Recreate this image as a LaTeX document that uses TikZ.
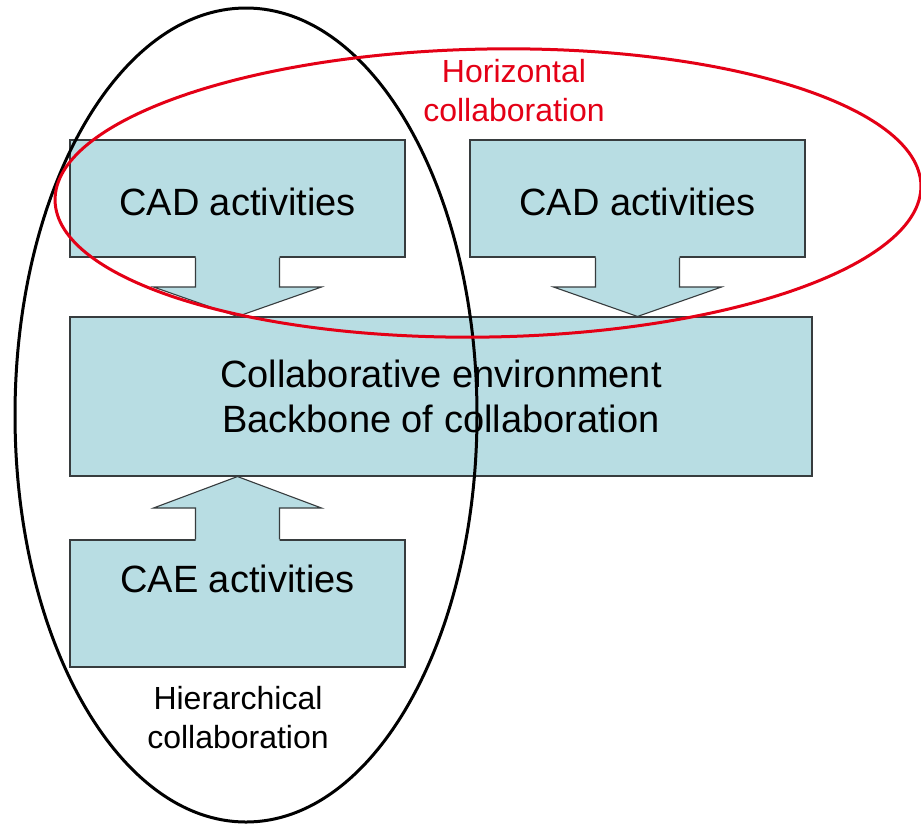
\documentclass[tikz,border=0pt]{standalone}
\usepackage{fontspec}
\setmainfont{Liberation Sans}
\usepackage{xcolor}
\usepackage{tikz}
\usetikzlibrary{calc}
\definecolor{boxblue}{RGB}{184, 221, 227}
\definecolor{boxedge}{RGB}{55, 60, 62}
\definecolor{collabred}{RGB}{228, 0, 22}

% block arrow from a box edge (#1) to its tip (#2)
\newcommand{\blockarrow}[2]{%
  \coordinate (ba-m) at ($(#1)!0.5!(#2)$);
  \coordinate (ba-s) at ($(#1)!-1.5pt!(#2)$);
  \fill[boxblue] ($(ba-s)!42pt!90:(#2)$) -- ($(ba-m)!42pt!90:(#2)$) -- ($(ba-m)!84pt!90:(#2)$) -- (#2)
    -- ($(ba-m)!84pt!-90:(#2)$) -- ($(ba-m)!42pt!-90:(#2)$) -- ($(ba-s)!42pt!-90:(#2)$) -- cycle;
  \draw[boxline] ($(#1)!42pt!90:(#2)$) -- ($(ba-m)!42pt!90:(#2)$) -- ($(ba-m)!84pt!90:(#2)$) -- (#2)
    -- ($(ba-m)!84pt!-90:(#2)$) -- ($(ba-m)!42pt!-90:(#2)$) -- ($(#1)!42pt!-90:(#2)$);
}

\tikzset{
  boxline/.style={draw=boxedge, line width=1.1pt, line join=miter},
  block/.style={boxline, fill=boxblue, inner sep=0pt, font=\fontsize{38}{45}\selectfont, align=center},
  grouplabel/.style={font=\fontsize{32}{39}\selectfont, align=center},
}

\begin{document}
\begin{tikzpicture}[x=1pt, y=1pt]
  \useasboundingbox[fill=white] (0,0) rectangle (921,-825);

  % boxes
  \node[block, minimum width=335pt, minimum height=117pt, text height=34pt] (cadleft) at (237.5,-198.5) {CAD activities};
  \node[block, minimum width=335pt, minimum height=117pt, text height=34pt] (cadright) at (637.5,-198.5) {CAD activities};
  \node[block, minimum width=742pt, minimum height=159pt] (backbone) at (441,-396.5)
    {Collaborative environment\\Backbone of collaboration};
  \node[block, minimum width=335pt, minimum height=127pt, text depth=50pt] (cae) at (237.5,-603.5) {CAE activities};

  % arrows into the backbone
  \coordinate (tipleft) at (cadleft.south |- backbone.north);
  \coordinate (tipright) at (cadright.south |- backbone.north);
  \coordinate (tipcae) at (cae.north |- backbone.south);
  \blockarrow{cadleft.south}{tipleft}
  \blockarrow{cadright.south}{tipright}
  \blockarrow{cae.north}{tipcae}

  % collaboration groups
  \draw[black, line width=3pt] (246,-415) ellipse [x radius=231pt, y radius=407pt];
  \draw[collabred, line width=3pt, rotate around={1:(488,-193)}] (488,-193) ellipse [x radius=433pt, y radius=144pt];
  \node[grouplabel, text=collabred] (horiz) at (514,-91) {Horizontal\\collaboration};
  \node[grouplabel] (hier) at (238,-717.5) {Hierarchical\\collaboration};
\end{tikzpicture}
\end{document}
